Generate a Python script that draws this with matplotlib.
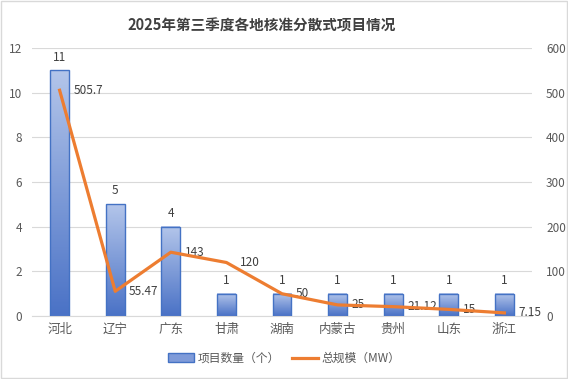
import numpy as np
import matplotlib
matplotlib.use('Agg')
import matplotlib.pyplot as plt
from matplotlib.colors import LinearSegmentedColormap
from matplotlib.patches import Patch
from matplotlib.lines import Line2D

plt.rcParams['font.family'] = ['Noto Sans CJK SC', 'DejaVu Sans']

provinces = ['河北', '辽宁', '广东', '甘肃', '湖南', '内蒙古', '贵州', '山东', '浙江']
counts = [11, 5, 4, 1, 1, 1, 1, 1, 1]
capacity_mw = [505.7, 55.47, 143, 120, 50, 25, 21.12, 15, 7.15]
cap_labels = ['505.7', '55.47', '143', '120', '50', '25', '21.12', '15', '7.15']

text_c = '#595959'
grid_c = '#d9d9d9'
bar_edge = '#4472c4'
line_c = '#ed7d31'

fig = plt.figure(figsize=(5.68, 3.79), dpi=100)
ax = fig.add_axes([0.056, 0.166, 0.881, 0.707])
ax2 = ax.twinx()

x = np.arange(len(provinces))
w = 0.34

# gradient bars
cmap = LinearSegmentedColormap.from_list('bar', ['#4a72c6', '#b3c5ea'])
grad = np.linspace(0, 1, 100).reshape(-1, 1)
for xi, c in zip(x, counts):
    ax.imshow(grad, extent=[xi - w / 2, xi + w / 2, 0, c], origin='lower',
              aspect='auto', cmap=cmap, zorder=2)
    ax.bar(xi, c, width=w, facecolor='none', edgecolor=bar_edge, linewidth=1, zorder=3)
    ax.annotate(str(c), (xi, c), xytext=(0, 5), textcoords='offset points',
                ha='center', va='bottom', fontsize=8.5, color='#404040')

ax.set_xlim(-0.5, len(provinces) - 0.5)
ax.set_ylim(0, 12)
ax.set_yticks(range(0, 13, 2))
ax.set_xticks(x)
ax.set_xticklabels(provinces)
ax.grid(axis='y', color=grid_c, linewidth=0.8, zorder=0)
ax.set_axisbelow(True)

ax2.plot(x, capacity_mw, color=line_c, linewidth=2.3, solid_joinstyle='round', zorder=4)
for xi, v, lab in zip(x, capacity_mw, cap_labels):
    ax2.annotate(lab, (xi, v), xytext=(10, 0), textcoords='offset points',
                 ha='left', va='center', fontsize=8.5, color='#404040')
ax2.set_ylim(0, 600)
ax2.set_yticks(range(0, 601, 100))

for a in (ax, ax2):
    for s in a.spines.values():
        s.set_visible(False)
    a.tick_params(length=0, colors=text_c, labelsize=8.5)
ax.spines['bottom'].set_visible(True)
ax.spines['bottom'].set_color(grid_c)
ax.tick_params(axis='x', labelsize=9, pad=5)
ax.tick_params(axis='y', pad=7)
ax2.tick_params(axis='y', pad=10)

fig.suptitle('2025年第三季度各地核准分散式项目情况', x=0.46, y=0.955,
             fontsize=10.5, fontweight='bold', color='#404040')

handles = [Patch(facecolor='#7f9bd9', edgecolor=bar_edge),
           Line2D([0], [0], color=line_c, linewidth=2.3)]
fig.legend(handles, ['项目数量（个）', '总规模（MW）'], loc='center',
           bbox_to_anchor=(0.5, 0.055), ncol=2, frameon=False, fontsize=8.5,
           labelcolor=text_c, handlelength=2.2, handletextpad=0.3, columnspacing=1.0)

fig.patches.append(plt.Rectangle((0.002, 0.003), 0.996, 0.994, transform=fig.transFigure,
                                 fill=False, edgecolor=grid_c, linewidth=1))

fig.savefig('out.png', dpi=100)
